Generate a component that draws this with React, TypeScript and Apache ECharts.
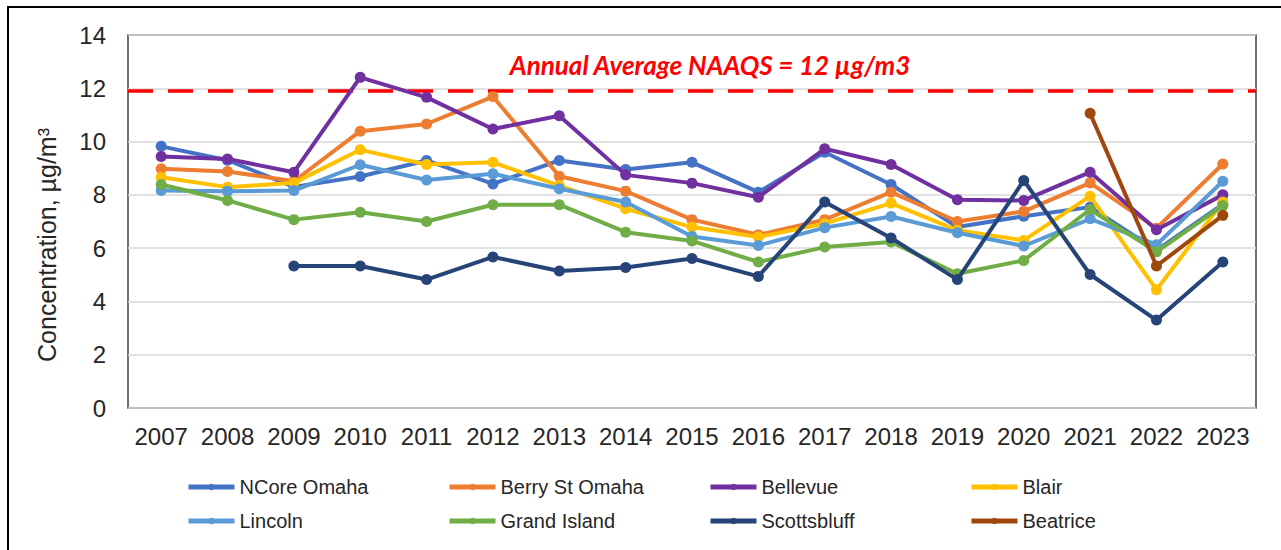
import React, { useEffect, useRef } from "react";
import * as echarts from "echarts";

const years = ["2007","2008","2009","2010","2011","2012","2013","2014","2015","2016","2017","2018","2019","2020","2021","2022","2023"];

const ncoreOmaha = [9.82, 9.3, 8.3, 8.69, 9.29, 8.41, 9.29, 8.95, 9.22, 8.1, 9.6, 8.39, 6.79, 7.2, 7.54, 5.92, 7.65];
const berryStOmaha = [8.98, 8.88, 8.51, 10.39, 10.66, 11.69, 8.7, 8.14, 7.07, 6.5, 7.07, 8.1, 7.0, 7.38, 8.45, 6.75, 9.16];
const bellevue = [9.44, 9.35, 8.85, 12.41, 11.66, 10.47, 10.97, 8.75, 8.44, 7.91, 9.73, 9.14, 7.82, 7.79, 8.85, 6.69, 8.0];
const blair = [8.66, 8.29, 8.45, 9.69, 9.14, 9.22, 8.35, 7.48, 6.79, 6.42, 6.92, 7.69, 6.67, 6.29, 7.95, 4.44, 7.73];
const lincoln = [8.16, 8.14, 8.16, 9.13, 8.56, 8.79, 8.23, 7.73, 6.44, 6.1, 6.77, 7.19, 6.58, 6.08, 7.1, 6.13, 8.51];
const grandIsland = [8.39, 7.79, 7.07, 7.35, 7.0, 7.63, 7.63, 6.6, 6.27, 5.48, 6.04, 6.23, 5.04, 5.54, 7.45, 5.86, 7.6];
const scottsbluff = [null, null, 5.33, 5.33, 4.82, 5.67, 5.14, 5.27, 5.61, 4.94, 7.73, 6.38, 4.82, 8.54, 5.01, 3.3, 5.48];
const beatrice = [null, null, null, null, null, null, null, null, null, null, null, null, null, null, 11.06, 5.33, 7.23];

const naaqs = 11.9;
const naaqsLabel = "Annual Average NAAQS = 12 µg/m3";
const yAxisTitle = "Concentration, µg/m³";

const seriesDefs = [
  { name: "NCore Omaha", data: ncoreOmaha, color: "#4472C4" },
  { name: "Berry St Omaha", data: berryStOmaha, color: "#ED7D31" },
  { name: "Bellevue", data: bellevue, color: "#7030A0" },
  { name: "Blair", data: blair, color: "#FFC000" },
  { name: "Lincoln", data: lincoln, color: "#5B9BD5" },
  { name: "Grand Island", data: grandIsland, color: "#70AD47" },
  { name: "Scottsbluff", data: scottsbluff, color: "#264478" },
  { name: "Beatrice", data: beatrice, color: "#9E480E" },
];

const legendColumns = [
  ["NCore Omaha", "Lincoln"],
  ["Berry St Omaha", "Grand Island"],
  ["Bellevue", "Scottsbluff"],
  ["Blair", "Beatrice"],
];

export default function App() {
  const ref = useRef<HTMLDivElement>(null);
  useEffect(() => {
    if (!ref.current) return;
    const chart = echarts.init(ref.current, null, { renderer: "svg" });
    const font = "'Liberation Sans', Arial, sans-serif";
    const series: any[] = seriesDefs.map((s, i) => ({
      name: s.name,
      type: "line",
      data: s.data,
      color: s.color,
      symbol: "circle",
      symbolSize: 11,
      lineStyle: { width: 4, color: s.color },
      itemStyle: { color: s.color },
      connectNulls: false,
      z: 3 + i,
    }));
    series[0].markLine = {
      silent: true,
      symbol: ["none", "none"],
      label: { show: false },
      lineStyle: { color: "#FF0000", type: [25, 15], width: 3.5 },
      data: [{ yAxis: naaqs }],
      z: 2,
    };
    chart.setOption({
      animation: false,
      backgroundColor: "#fff",
      grid: {
        left: 128,
        right: 25,
        top: 35,
        bottom: 142,
        show: true,
        borderColor: "#404040",
        borderWidth: 1.5,
        containLabel: false,
      },
      xAxis: {
        type: "category",
        data: years,
        boundaryGap: true,
        axisLine: { show: false },
        axisTick: { show: false },
        axisLabel: { fontSize: 24, color: "#262626", fontFamily: font, margin: 16, interval: 0 },
        splitLine: { show: false },
      },
      yAxis: {
        type: "value",
        min: 0,
        max: 14,
        interval: 2,
        axisLine: { show: false },
        axisTick: { show: false },
        axisLabel: { fontSize: 24, color: "#262626", fontFamily: font, margin: 22 },
        splitLine: { show: true, lineStyle: { color: "#D9D9D9", width: 1.5 } },
      },
      legend: legendColumns.map((col, i) => ({
        data: col,
        orient: "vertical",
        left: 181 + i * 261,
        top: 472,
        itemGap: 14,
        itemWidth: 46,
        itemHeight: 8,
        lineStyle: { width: 5 },
        textStyle: { fontSize: 20, color: "#262626", fontFamily: font, padding: [0, 0, 0, 0] },
        selectedMode: false,
      })),
      graphic: [
        {
          type: "rect",
          shape: { x: 8, y: 7, width: 1400, height: 700 },
          style: { fill: "none", stroke: "#000", lineWidth: 2 },
          silent: true,
        },
        {
          type: "text",
          x: 710,
          y: 65,
          style: {
            text: naaqsLabel,
            fill: "#FF0000",
            font: "italic bold 26px Lato, 'Liberation Sans', sans-serif",
            textAlign: "center",
            textVerticalAlign: "middle",
          },
          z: 10,
        },
        {
          type: "text",
          x: 47,
          y: 245,
          rotation: Math.PI / 2,
          style: {
            text: yAxisTitle,
            fill: "#262626",
            font: "25px 'Liberation Sans', Arial, sans-serif",
            textAlign: "center",
            textVerticalAlign: "middle",
          },
        },
      ],
      series,
    });
    return () => chart.dispose();
  }, []);
  return <div ref={ref} style={{ position: "fixed", left: 0, top: 0, width: 1281, height: 550 }} />;
}
